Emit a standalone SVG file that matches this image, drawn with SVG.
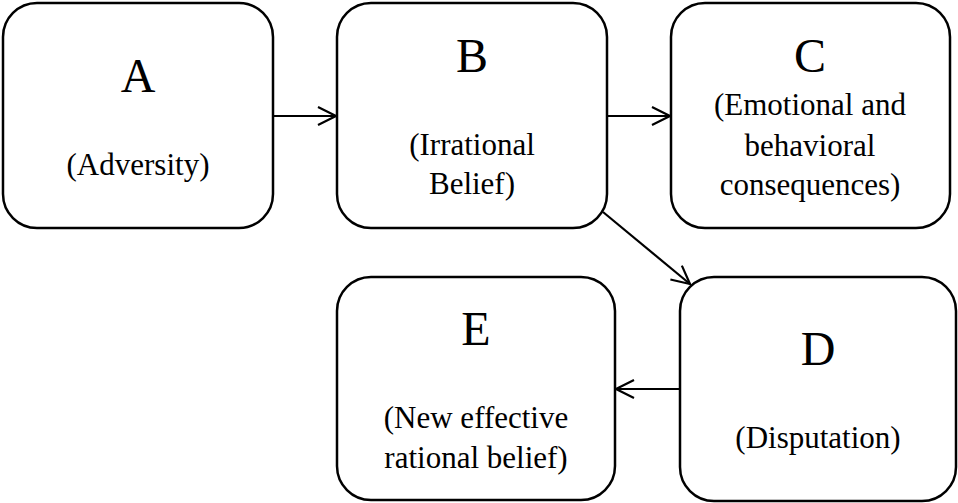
<svg xmlns="http://www.w3.org/2000/svg" width="958" height="503" viewBox="0 0 958 503">
<style>
.box{fill:#fff;stroke:#000;stroke-width:2.5}
.big{font-family:"Liberation Serif","Times New Roman",serif;font-size:48px;text-anchor:middle;fill:#000}
.t{font-family:"Liberation Serif","Times New Roman",serif;font-size:31px;text-anchor:middle;fill:#000}
.c{fill:none;stroke:#000;stroke-width:2.2}
</style>
<defs>
<marker id="ar" viewBox="0 0 20 20" refX="19" refY="10" markerWidth="20" markerHeight="20" markerUnits="userSpaceOnUse" orient="auto">
<path d="M1,1 L19,10 L1,19" fill="none" stroke="#000" stroke-width="2.2"/>
</marker>
</defs>
<g id="A"><rect class="box" x="3" y="3" width="270" height="225" rx="34"/>
<text class="big" x="138" y="92">A</text>
<text class="t" x="138" y="175">(Adversity)</text></g>
<g id="B"><rect class="box" x="337" y="3" width="270" height="225" rx="34"/>
<text class="big" x="472" y="72">B</text>
<text class="t" x="472" y="155">(Irrational</text>
<text class="t" x="472" y="194">Belief)</text></g>
<g id="C"><rect class="box" x="671" y="3" width="279" height="225" rx="34"/>
<text class="big" x="810" y="72">C</text>
<text class="t" x="810" y="115">(Emotional and</text>
<text class="t" x="810" y="156">behavioral</text>
<text class="t" x="810" y="195">consequences)</text></g>
<g id="D"><rect class="box" x="680" y="277" width="276" height="224" rx="34"/>
<text class="big" x="818" y="365">D</text>
<text class="t" x="818" y="448">(Disputation)</text></g>
<g id="E"><rect class="box" x="337" y="277" width="278" height="223" rx="34"/>
<text class="big" x="476" y="345">E</text>
<text class="t" x="476" y="428">(New effective</text>
<text class="t" x="476" y="468">rational belief)</text></g>
<g id="connectors">
<line class="c" x1="273" y1="116" x2="336" y2="116" marker-end="url(#ar)"/>
<line class="c" x1="607" y1="116" x2="670" y2="116" marker-end="url(#ar)"/>
<line class="c" x1="603" y1="212" x2="690" y2="284" marker-end="url(#ar)"/>
<line class="c" x1="680" y1="389" x2="616" y2="389" marker-end="url(#ar)"/>
</g>
</svg>
